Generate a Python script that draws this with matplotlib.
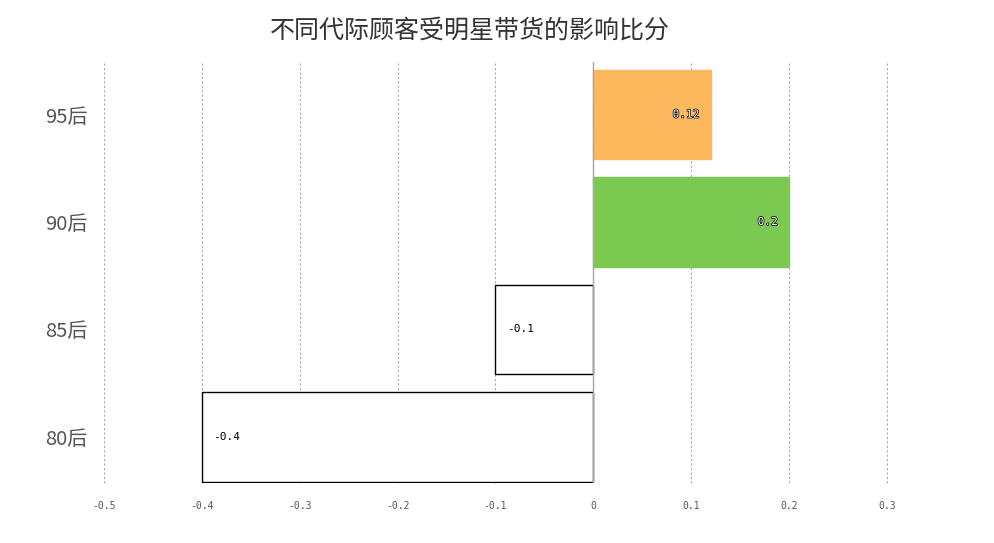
import matplotlib.pyplot as plt
import matplotlib.patheffects as pe

plt.rcParams['font.family'] = ['Noto Sans CJK SC', 'DejaVu Sans']

# Data
groups = ['80后', '85后', '90后', '95后']
values = [-0.4, -0.1, 0.2, 0.12]
fills = ['white', 'white', '#7bc950', '#fdb75c']
edges = ['black', 'black', '#7bc950', '#fdb75c']
xticks = [-0.5, -0.4, -0.3, -0.2, -0.1, 0, 0.1, 0.2, 0.3]
xtick_labels = ['-0.5', '-0.4', '-0.3', '-0.2', '-0.1', '0', '0.1', '0.2', '0.3']

fig = plt.figure(figsize=(9.94, 5.43), dpi=100)
ax = fig.add_axes([0.1046, 0.1105, 0.7877, 0.7753])

ypos = list(range(len(groups)))
ax.barh(ypos, values, height=0.835, color=fills, edgecolor=edges, linewidth=1.0, zorder=3)

# value labels inside bars
for y, v in zip(ypos, values):
    if v >= 0:
        ax.annotate(str(v), (v, y), xytext=(-8, 0), textcoords='offset points',
                    ha='right', va='center', fontsize=8, color='white',
                    family='DejaVu Sans Mono', zorder=5,
                    path_effects=[pe.withStroke(linewidth=1.0, foreground='black')])
    else:
        ax.annotate(str(v), (v, y), xytext=(8, 0), textcoords='offset points',
                    ha='left', va='center', fontsize=8, color='black',
                    family='DejaVu Sans Mono', zorder=5)

ax.set_xlim(-0.5, 0.3)
ax.set_ylim(-0.43, 3.49)
ax.set_xticks(xticks)
ax.set_xticklabels(xtick_labels, family='DejaVu Sans Mono', fontsize=7, color='#555555')
ax.set_yticks(ypos)
ax.set_yticklabels(groups, fontsize=14.5, color='#555555')
ax.tick_params(axis='y', length=0, pad=12)
ax.tick_params(axis='x', length=0, pad=13)

for s in ax.spines.values():
    s.set_visible(False)
ax.grid(axis='x', linestyle=(0, (2, 2)), color='#aaaaaa', linewidth=0.8, zorder=0)
ax.axvline(0, color='#aaaaaa', linewidth=1.0, zorder=4)
for gl in ax.get_xgridlines():
    gl.set_clip_on(False)

fig.text(0.473, 0.944, '不同代际顾客受明星带货的影响比分', ha='center', va='center',
         fontsize=18, color='#333333')

fig.savefig('out.png', dpi=100)
